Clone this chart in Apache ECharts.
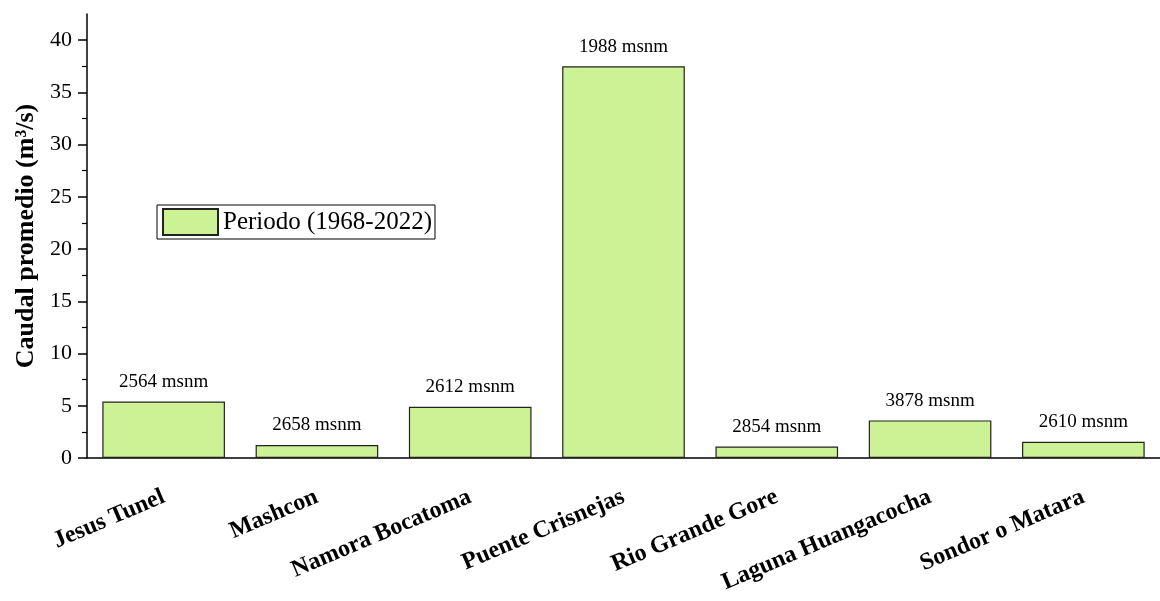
<!DOCTYPE html>
<html><head><meta charset="utf-8">
<script src="https://cdn.jsdelivr.net/npm/echarts@6/dist/echarts.min.js"></script>
<style>html,body{margin:0;padding:0;background:#fff}#c{width:1160px;height:601px}</style>
</head><body><div id="c"></div>
<script>
const categories = ['Jesus Tunel','Mashcon','Namora Bocatoma','Puente Crisnejas','Rio Grande Gore','Laguna Huangacocha','Sondor o Matara'];
const caudal = [5.4, 1.25, 4.9, 37.5, 1.1, 3.6, 1.55];
const altitudes = ['2564 msnm','2658 msnm','2612 msnm','1988 msnm','2854 msnm','3878 msnm','2610 msnm'];
const yTicks = [0,5,10,15,20,25,30,35,40];
const seriesName = 'Periodo (1968-2022)';

const FONT = '"Liberation Serif","Times New Roman",serif';
const chart = echarts.init(document.getElementById('c'));
chart.setOption({
  animation: false,
  backgroundColor: '#fff',
  grid: { left: 87, top: 14, bottom: 143, width: 1080 },
  legend: {
    left: 157, top: 205, orient: 'vertical',
    data: [{ name: seriesName, icon: 'rect' }],
    itemWidth: 55, itemHeight: 26, itemGap: 0,
    padding: [3, 3, 3, 5],
    borderColor: '#000', borderWidth: 1,
    textStyle: { fontFamily: FONT, fontSize: 25, color: '#000' }
  },
  xAxis: [{
    type: 'category', data: categories,
    axisLine: { lineStyle: { color: '#000', width: 1.5 } },
    axisTick: { alignWithLabel: true, length: 9, lineStyle: { color: '#000', width: 1.5 } },
    axisLabel: { rotate: 23, margin: 38, fontFamily: FONT, fontSize: 24, fontWeight: 'bold', color: '#000', interval: 0 }
  }, {
    type: 'category', data: categories, position: 'bottom',
    axisLine: { show: false },
    axisTick: { length: 5, lineStyle: { color: '#000', width: 1.5 } },
    axisLabel: { show: false }
  }],
  yAxis: {
    type: 'value', min: 0, max: 42.5, interval: 5,
    name: 'Caudal promedio (m³/s)', nameLocation: 'middle', nameGap: 48,
    nameTextStyle: { fontFamily: FONT, fontSize: 26, fontWeight: 'bold', color: '#000' },
    axisLine: { show: true, lineStyle: { color: '#000', width: 1.5 } },
    axisTick: { show: true, length: 9, lineStyle: { color: '#000', width: 1.5 }, customValues: yTicks },
    minorTick: { show: true, splitNumber: 2, length: 5, lineStyle: { color: '#000', width: 1.2 } },
    axisLabel: { margin: 15, fontFamily: FONT, fontSize: 22, color: '#000', customValues: yTicks },
    splitLine: { show: false }
  },
  series: [{
    name: seriesName, type: 'bar', data: caudal,
    barCategoryGap: '20%',
    itemStyle: { color: '#cdf195', borderColor: '#222', borderWidth: 1.2 },
    label: {
      show: true, position: 'top', distance: 10,
      formatter: p => altitudes[p.dataIndex],
      fontFamily: FONT, fontSize: 19, color: '#000'
    }
  }]
});
</script></body></html>
